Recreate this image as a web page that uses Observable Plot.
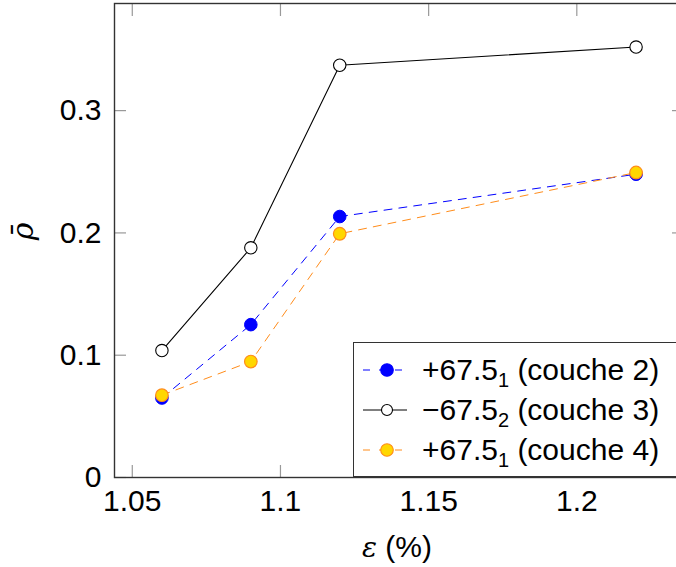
<!DOCTYPE html>
<html>
<head>
<meta charset="utf-8">
<script src="https://cdn.jsdelivr.net/npm/d3@7"></script>
<script src="https://cdn.jsdelivr.net/npm/@observablehq/plot@0.6"></script>
<style>
  html, body { margin: 0; padding: 0; background: #fff; overflow: hidden; }
  #wrap { position: relative; width: 676px; height: 567px; overflow: hidden; font-family: "Liberation Sans", Arial, sans-serif; }
  #legend { position: absolute; left: 353px; top: 342px; width: 340px; height: 135px; border: 1.4px solid #333; background: #fff; box-sizing: border-box; }
  .row { position: absolute; left: 0; height: 40px; display: flex; align-items: center; font-size: 30px; color: #000; white-space: nowrap; }
  .row svg { margin-left: 8px; margin-right: 14px; }
  sub { font-size: 20px; vertical-align: -7px; line-height: 0; }
</style>
</head>
<body>
<div id="wrap"></div>
<script>
const epsilon = [1.06, 1.09, 1.12, 1.22];
const couche2 = [0.065, 0.125, 0.2134, 0.248];
const couche3 = [0.1038, 0.1878, 0.3371, 0.352];
const couche4 = [0.0673, 0.0948, 0.1993, 0.2494];
const xTicks = [1.05, 1.1, 1.15, 1.2];
const xTickLabels = ["1.05", "1.1", "1.15", "1.2"];
const yTicks = [0, 0.1, 0.2, 0.3];
const yTickLabels = ["0", "0.1", "0.2", "0.3"];
const seriesNames = ["+67.5|1| (couche 2)", "\u221267.5|2| (couche 3)", "+67.5|1| (couche 4)"];

const toRows = (vals) => epsilon.map((x, i) => ({x, y: vals[i]}));
const s2 = toRows(couche2), s3 = toRows(couche3), s4 = toRows(couche4);

const blue = "#0000ff", orange = "#ff8c1a", gold = "#ffd700";
const dash = "8,7";
const font = 30;

const chart = Plot.plot({
  width: 700,
  height: 567,
  marginLeft: 114,
  marginRight: 17,
  marginTop: 3,
  marginBottom: 90,
  style: {fontFamily: "Liberation Sans, Arial, sans-serif", background: "transparent", overflow: "visible", maxWidth: "none"},
  x: {domain: [1.044, 1.236]},
  y: {domain: [0, 0.3876]},
  marks: [
    // inward ticks on all sides
    Plot.axisX(xTicks, {anchor: "bottom", tickSize: -12, text: null, label: null, stroke: "#999", strokeWidth: 1.2}),
    Plot.axisX(xTicks, {anchor: "top", tickSize: -12, text: null, label: null, stroke: "#999", strokeWidth: 1.2}),
    Plot.axisY(yTicks, {anchor: "left", tickSize: -12, text: null, label: null, stroke: "#999", strokeWidth: 1.2}),
    Plot.axisY(yTicks, {anchor: "right", tickSize: -12, text: null, label: null, stroke: "#999", strokeWidth: 1.2}),
    // labels
    Plot.axisX(xTicks, {anchor: "bottom", tickSize: 0, tickPadding: 12, fontSize: font, fill: "#000",
      tickFormat: (d) => xTickLabels[xTicks.indexOf(d)], label: null}),
    Plot.axisY(yTicks, {anchor: "left", tickSize: 0, tickPadding: 13, fontSize: font, fill: "#000",
      tickFormat: (d) => yTickLabels[yTicks.indexOf(d)], label: null}),
    Plot.frame({stroke: "#333", strokeWidth: 1.4}),
    // series
    Plot.line(s2, {x: "x", y: "y", stroke: blue, strokeWidth: 1, strokeDasharray: dash}),
    Plot.dot(s2, {x: "x", y: "y", r: 6.3, fill: blue, stroke: blue, strokeWidth: 1}),
    Plot.line(s3, {x: "x", y: "y", stroke: "#000", strokeWidth: 1.1}),
    Plot.dot(s3, {x: "x", y: "y", r: 6.2, fill: "#fff", stroke: "#000", strokeWidth: 1.1}),
    Plot.line(s4, {x: "x", y: "y", stroke: orange, strokeWidth: 1, strokeDasharray: dash}),
    Plot.dot(s4, {x: "x", y: "y", r: 6.3, fill: gold, stroke: orange, strokeWidth: 1.2}),
  ]
});

const wrap = document.getElementById("wrap");
chart.style.position = "absolute";
chart.style.left = "0px";
chart.style.top = "0px";
chart.style.maxWidth = "none";
chart.style.width = "700px";
chart.style.height = "567px";
wrap.appendChild(chart);

// axis titles
const xt = document.createElement("div");
xt.style.cssText = "position:absolute;left:317px;width:160px;top:530px;text-align:center;font-size:30px;color:#000;";
xt.innerHTML = '<span style="font-family:\'DejaVu Serif\',serif;font-style:italic;font-size:28px">\u03b5</span> (%)';
wrap.appendChild(xt);

const yt = document.createElement("div");
yt.style.cssText = "position:absolute;left:-28px;top:214px;width:100px;text-align:center;font-size:30px;color:#000;transform:rotate(-90deg);font-family:'DejaVu Serif',serif;font-style:italic;";
yt.textContent = "\u03c1\u0304";
wrap.appendChild(yt);

// legend
const legend = document.createElement("div");
legend.id = "legend";
const sampleDefs = [
  {stroke: blue, dash: dash, fill: blue, mstroke: blue},
  {stroke: "#000", dash: null, fill: "#fff", mstroke: "#000"},
  {stroke: orange, dash: dash, fill: gold, mstroke: orange}
];
seriesNames.forEach((name, i) => {
  const d = sampleDefs[i];
  const parts = name.split("|");
  const row = document.createElement("div");
  row.className = "row";
  row.style.top = (7 + i * 40) + "px";
  row.innerHTML =
    `<svg width="46" height="20"><line x1="1" y1="10" x2="45" y2="10" stroke="${d.stroke}" stroke-width="1" ${d.dash ? 'stroke-dasharray="7,9"' : ''}/>` +
    `<circle cx="25" cy="10" r="${i === 1 ? 5.5 : 6.3}" fill="${d.fill}" stroke="${d.mstroke}" stroke-width="1.1"/></svg>` +
    `<span>${parts[0]}<sub>${parts[1]}</sub>${parts[2].replace(" (", "&nbsp;(")}</span>`;
  legend.appendChild(row);
});
wrap.appendChild(legend);
</script>
</body>
</html>
